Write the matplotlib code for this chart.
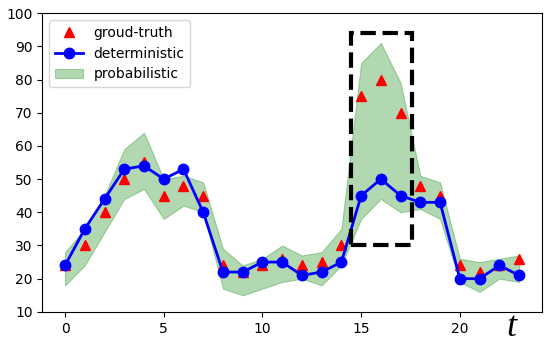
import numpy as np
import matplotlib
matplotlib.use("Agg")
import matplotlib.pyplot as plt
from matplotlib.patches import Rectangle

# ---- data
t = np.arange(24)
truth = [24, 30, 40, 50, 55, 45, 48, 45, 24, 22, 24, 26,
         24, 25, 30, 75, 80, 70, 48, 45, 24, 22, 24, 26]
determ = [24, 35, 44, 53, 54, 50, 53, 40, 22, 22, 25, 25,
          21, 22, 25, 45, 50, 45, 43, 43, 20, 20, 24, 21]
upper = [28, 35, 45, 59, 64, 50, 51, 49, 29, 24, 26, 30,
         27, 28, 35, 85, 91, 79, 51, 49, 26, 25, 26, 27]
lower = [18, 24, 34, 44, 47, 38, 42, 40, 17, 15, 17, 19,
         20, 18, 24, 38, 44, 40, 41, 38, 19, 16, 20, 19]
box_x = (14.5, 17.6)
box_y = (30, 94)

fig = plt.figure(figsize=(5.5, 3.45), dpi=100)
ax = fig.add_axes([0.077, 0.096, 0.908, 0.866])

ax.plot(t, truth, '^', color='red', markersize=6.5, label='groud-truth', zorder=3)
ax.plot(t, determ, '-o', color='blue', markersize=7.5, linewidth=2,
        label='deterministic', zorder=4)
ax.fill_between(t, lower, upper, color='green', alpha=0.3, linewidth=0.8,
                label='probabilistic', zorder=1)

ax.add_patch(Rectangle((box_x[0], box_y[0]), box_x[1] - box_x[0], box_y[1] - box_y[0],
                       fill=False, edgecolor='black', linestyle='--', linewidth=3, zorder=5))

ax.set_ylim(10, 100)
ax.set_xticks([0, 5, 10, 15, 20])
ax.tick_params(labelsize=10)
ax.legend(loc='upper left')

fig.text(0.92, 0.025, 't', fontsize=26, family='Liberation Serif', style='italic')

plt.savefig('out.png', dpi=100)
